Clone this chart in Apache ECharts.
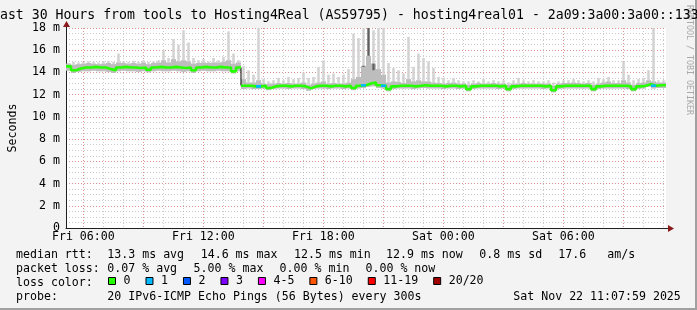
<!DOCTYPE html>
<html><head><meta charset="utf-8">
<script src="https://cdn.jsdelivr.net/npm/echarts@6/dist/echarts.min.js"></script>
<style>html,body{margin:0;padding:0;background:#f3f3f3}#c{width:697px;height:310px}</style>
</head><body><div id="c"></div>
<script>
// ---- data ----
const START_HOUR = 5 + 8 / 60;   // Fri 05:08 (hours since Fri 00:00)
const SPAN_HOURS = 30;
const BIN_HOURS = 0.25;          // 15-minute bins

const median = [
14.55,14.2,14.35,14.45,14.45,14.5,14.45,14.45,14.3,14.2,
14.45,14.5,14.45,14.45,14.4,14.45,14.25,14.45,14.5,14.45,
14.45,14.5,14.45,14.4,14.45,14.2,14.45,14.5,14.45,14.45,
14.5,14.45,14.45,14.1,14.45,12.8,12.8,12.75,12.75,12.8,
12.6,12.75,12.8,12.8,12.75,12.8,12.8,12.75,12.57,12.75,
12.8,12.8,12.75,12.8,12.8,12.75,12.8,12.6,12.8,12.85,
13.0,13.1,12.85,12.8,12.5,12.75,12.8,12.8,12.8,12.75,
12.8,12.85,12.8,12.8,12.8,12.75,12.8,12.8,12.75,12.8,
12.5,12.75,12.8,12.8,12.8,12.8,12.75,12.8,12.5,12.75,
12.8,12.8,12.8,12.8,12.8,12.75,12.8,12.4,12.75,12.8,
12.8,12.8,12.8,12.8,12.8,12.5,12.75,12.8,12.8,12.8,
12.8,12.8,12.75,12.5,12.75,12.8,12.95,12.8,12.85,12.85
];
const smokeLow = [
14.15,13.95,14.05,14.1,14.1,14.15,14.1,14.1,14.05,13.95,
14.1,14.15,14.1,14.1,14.05,14.1,14.0,14.1,14.15,14.1,
14.1,14.15,14.1,14.05,14.1,13.95,14.1,14.15,14.1,14.1,
14.15,14.1,14.1,13.9,14.1,12.5,12.55,12.5,12.5,12.55,
12.4,12.5,12.55,12.55,12.5,12.55,12.55,12.5,12.35,12.5,
12.55,12.55,12.5,12.55,12.55,12.5,12.55,12.4,12.55,12.6,
12.7,12.75,12.6,12.55,12.3,12.5,12.55,12.55,12.55,12.5,
12.55,12.6,12.55,12.55,12.55,12.5,12.55,12.55,12.5,12.55,
12.3,12.5,12.55,12.55,12.55,12.55,12.5,12.55,12.3,12.5,
12.55,12.55,12.55,12.55,12.55,12.5,12.55,12.2,12.5,12.55,
12.55,12.55,12.55,12.55,12.55,12.3,12.5,12.55,12.55,12.55,
12.55,12.55,12.5,12.3,12.5,12.55,12.7,12.55,12.6,12.6
];
const smokeMid = [
14.8,14.7,14.75,14.8,14.85,14.8,14.75,14.8,14.85,14.75,
14.9,14.85,14.8,14.85,14.8,14.9,14.75,14.85,14.9,15.1,
14.9,15.2,15.0,15.1,15.0,14.8,14.85,14.9,14.85,14.9,
14.9,14.95,15.1,14.8,14.9,13.4,13.1,13.1,13.3,13.0,
12.95,13.0,13.05,13.0,13.05,13.0,13.0,13.1,12.9,13.0,
13.1,13.2,13.0,13.05,13.0,13.0,13.1,13.4,13.6,14.6,
15.5,14.8,14.3,13.8,13.1,13.2,13.15,13.05,13.4,13.2,
13.3,13.2,13.2,13.1,13.05,13.0,13.05,13.1,13.0,13.0,
12.9,13.0,13.05,13.0,13.0,13.05,13.0,13.0,12.9,13.0,
13.0,13.05,13.0,13.0,13.0,13.0,13.0,12.8,13.0,13.05,
13.05,13.1,13.05,13.0,13.05,12.9,13.0,13.1,13.2,13.05,
13.05,13.3,13.1,12.9,13.05,13.1,13.3,13.2,13.1,13.1
];
const smokeMax = [
14.85,14.95,14.9,14.95,15.0,14.95,14.9,15.0,15.05,14.95,
15.7,15.0,14.95,15.05,14.95,15.1,14.95,15.0,15.1,16.0,
15.3,17.0,16.5,17.8,16.7,15.3,15.1,15.2,15.0,15.3,
15.1,15.4,17.7,15.7,15.1,14.6,14.2,13.8,18.0,13.4,
13.2,13.3,13.5,13.3,13.6,13.4,13.5,14.0,13.5,13.6,
14.5,15.1,13.8,13.9,13.6,13.8,14.3,17.5,17.1,18.0,
18.0,17.8,18.0,18.0,14.85,14.4,14.2,13.9,17.2,14.5,
15.7,15.3,15.0,14.4,13.6,13.5,13.3,13.5,13.3,13.2,
13.2,13.3,13.2,13.4,13.2,13.3,13.2,13.3,13.1,13.3,
13.5,13.3,13.2,13.3,13.2,13.2,13.3,13.1,13.2,13.3,
13.3,13.4,13.3,13.2,13.3,13.2,13.5,13.4,13.6,13.3,
13.3,15.0,13.8,13.3,13.4,13.5,14.2,18.0,13.3,13.3
];
const darkSpikes = [[59, 14.5], [60, 18.0], [61, 14.2]];   // [bin, top]
const loss1Bins = [38, 59, 63, 117];

const xLabelHours = [6, 12, 18, 24, 30];
const xLabelText = ['Fri 06:00', 'Fri 12:00', 'Fri 18:00', 'Sat 00:00', 'Sat 06:00'];
const lossLevels = ['0', '1', '2', '3', '4-5', '6-10', '11-19', '20/20'];
const lossColors = ['#26ff00', '#00b8ff', '#0059ff', '#7e00ff', '#ff00ff', '#ff5500', '#ff0000', '#a00000'];

const titleText = 'Last 30 Hours from tools to Hosting4Real (AS59795) - hosting4real01 - 2a09:3a00:3a00::133';
const rttHead = 'median rtt:';
const rttStats = ['13.3 ms avg', '14.6 ms max', '12.5 ms min', '12.9 ms now', '0.8 ms sd', '17.6', 'am/s'];
const lossHead = 'packet loss:';
const lossStats = ['0.07 % avg', '5.00 % max', '0.00 % min', '0.00 % now'];
const lossColorHead = 'loss color:';
const probeHead = 'probe:';
const probeText = '20 IPv6-ICMP Echo Pings (56 Bytes) every 300s';
const stampText = 'Sat Nov 22 11:07:59 2025';

// ---- layout ----
const MONO = '"DejaVu Sans Mono", monospace';
const FS = 11.6;
const rttX = [107.3, 200.7, 294, 386, 479.3, 558.3, 607.3];
const lossX = [107.3, 193.6, 279.6, 365.5];

const END_HOUR = START_HOUR + SPAN_HOURS;
const tAt = i => START_HOUR + i * BIN_HOURS;
const hourTicks = [];
for (let h = Math.ceil(START_HOUR); h <= END_HOUR; h++) hourTicks.push(h);
const minorHours = hourTicks.filter(h => h % 3 !== 0);
const majorHours = hourTicks.filter(h => h % 3 === 0);

const darkMap = {};
darkSpikes.forEach(d => { darkMap[d[0]] = d[1]; });
const smokeData = median.map((m, i) => [tAt(i), tAt(i + 1), smokeLow[i], smokeMid[i], smokeMax[i], darkMap[i] || 0]);

const blackLine = median.map((v, i) => [tAt(i), v]);
blackLine.push([END_HOUR, median[median.length - 1]]);

const greenLine = [];
median.forEach((v, i) => {
  greenLine.push([tAt(i), v], [tAt(i + 1), v]);
  if (i + 1 < median.length && Math.abs(median[i + 1] - v) > 0.5) greenLine.push(null);
});
const blueLine = [];
loss1Bins.forEach(b => { blueLine.push([tAt(b), median[b]], [tAt(b + 1), median[b]], null); });

function renderSmoke(params, api) {
  const t0 = api.value(0), t1 = api.value(1);
  const lo = api.value(2), mi = api.value(3), hi = api.value(4), dk = api.value(5);
  const rect = (a, b, fill, frac) => {
    const p0 = api.coord([t0, b]);
    const p1 = api.coord([t1, a]);
    const w = p1[0] - p0[0];
    const ww = Math.max(1.5, w * frac);
    return { type: 'rect', shape: { x: p0[0] + (w - ww) / 2, y: p0[1], width: ww, height: p1[1] - p0[1] }, style: { fill } };
  };
  const children = [rect(mi, hi, '#d2d2d2', 0.5), rect(lo, mi, '#bdbdbd', 1)];
  if (dk > 0) children.push(rect(mi, dk, '#5e5e5e', 0.45));
  return { type: 'group', children };
}

const series = [
  { type: 'custom', name: 'smoke', renderItem: renderSmoke, data: smokeData, clip: true,
    encode: { x: [0, 1], y: [2, 3, 4] }, silent: true, z: 1 },
  { type: 'line', name: 'medianBase', data: blackLine, step: 'end', showSymbol: false, symbol: 'none',
    lineStyle: { color: '#000', width: 1 }, z: 2, silent: true },
  { type: 'line', name: lossLevels[0], data: greenLine, showSymbol: false, symbol: 'none', connectNulls: false,
    itemStyle: { color: lossColors[0] }, lineStyle: { color: lossColors[0], width: 2.6 }, z: 3, silent: true },
  { type: 'line', name: lossLevels[1], data: blueLine, showSymbol: false, symbol: 'none', connectNulls: false,
    itemStyle: { color: lossColors[1] }, lineStyle: { color: lossColors[1], width: 2.6 }, z: 4, silent: true }
];
for (let k = 2; k < lossLevels.length; k++) {
  series.push({ type: 'line', name: lossLevels[k], data: [], showSymbol: false,
    itemStyle: { color: lossColors[k] }, lineStyle: { color: lossColors[k] } });
}

const graphics = [];
const txt = (x, y, text) => graphics.push({ type: 'text', x, y, silent: true,
  style: { text, font: FS + 'px ' + MONO, fill: '#000', verticalAlign: 'middle', align: 'left' } });
txt(16, 254.5, rttHead);
rttStats.forEach((s, i) => txt(rttX[i], 254.5, s));
txt(16, 268.5, lossHead);
lossStats.forEach((s, i) => txt(lossX[i], 268.5, s));
txt(16, 282.5, lossColorHead);
txt(16, 296.5, probeHead);
txt(107.3, 296.5, probeText);
txt(513.3, 296.5, stampText);
// vertical credit
graphics.push({ type: 'text', x: 693, y: 5, rotation: -Math.PI / 2, silent: true,
  style: { text: 'RRDTOOL / TOBI OETIKER', font: '8.3px ' + MONO, fill: '#a8a8a8', verticalAlign: 'top', align: 'left' } });
// axis arrows
graphics.push({ type: 'line', silent: true, shape: { x1: 66.5, y1: 28, x2: 66.5, y2: 24 }, style: { stroke: '#1f1f1f', lineWidth: 1 } });
graphics.push({ type: 'polygon', silent: true, shape: { points: [[63, 27], [70, 27], [66.5, 21]] }, style: { fill: '#8b1a1a' } });
graphics.push({ type: 'line', silent: true, shape: { x1: 666, y1: 228.5, x2: 670, y2: 228.5 }, style: { stroke: '#1f1f1f', lineWidth: 1 } });
graphics.push({ type: 'polygon', silent: true, shape: { points: [[668, 225], [668, 232], [674, 228.5]] }, style: { fill: '#8b1a1a' } });
// frame shading
graphics.push({ type: 'rect', silent: true, shape: { x: 0, y: 308, width: 697, height: 2 }, style: { fill: '#a0a0a0' } });
graphics.push({ type: 'rect', silent: true, shape: { x: 695, y: 0, width: 2, height: 310 }, style: { fill: '#a0a0a0' } });

const option = {
  animation: false,
  backgroundColor: '#f3f3f3',
  title: { text: titleText, left: -8, top: 9, padding: 0,
    textStyle: { fontFamily: MONO, fontSize: 13.2, fontWeight: 'normal', color: '#000' } },
  grid: { left: 66, top: 28, width: 600, height: 200, show: true, backgroundColor: '#ffffff', borderWidth: 0,
    containLabel: false, outerBoundsMode: 'none' },
  legend: { data: lossLevels, left: 108, top: 275, icon: 'rect', itemWidth: 7, itemHeight: 7, itemGap: 15,
    padding: 0, selectedMode: false,
    itemStyle: { borderColor: '#000', borderWidth: 1 },
    textStyle: { fontFamily: MONO, fontSize: FS, color: '#000', padding: [0, 0, 0, 3] } },
  xAxis: [
    { type: 'value', min: START_HOUR, max: END_HOUR, position: 'bottom',
      axisLine: { show: true, onZero: true, lineStyle: { color: '#1f1f1f', width: 1 } },
      axisTick: { show: false, customValues: minorHours },
      splitLine: { show: true, lineStyle: { color: 'rgba(140,140,140,0.45)', type: [1, 2], width: 1 } },
      axisLabel: { customValues: xLabelHours, formatter: v => xLabelText[xLabelHours.indexOf(Math.round(v))] || '',
        fontFamily: MONO, fontSize: FS, color: '#000', margin: 3 } },
    { type: 'value', min: START_HOUR, max: END_HOUR, position: 'top',
      axisLine: { show: false }, axisLabel: { show: false },
      axisTick: { show: false, customValues: majorHours },
      splitLine: { show: true, lineStyle: { color: 'rgba(205,70,70,0.6)', type: [1, 2], width: 1 } } }
  ],
  yAxis: { type: 'value', min: 0, max: 18, interval: 2,
    axisLine: { show: true, lineStyle: { color: '#1f1f1f', width: 1 } },
    axisTick: { show: false },
    axisLabel: { formatter: v => (v === 0 ? '0' : v + ' m'), fontFamily: MONO, fontSize: FS, color: '#000', margin: 6 },
    splitLine: { show: true, lineStyle: { color: 'rgba(205,70,70,0.6)', type: [1, 2], width: 1 } },
    minorTick: { show: false, splitNumber: 4 },
    minorSplitLine: { show: true, lineStyle: { color: 'rgba(140,140,140,0.45)', type: [1, 2], width: 1 } },
    name: 'Seconds', nameLocation: 'middle', nameGap: 47,
    nameTextStyle: { fontFamily: MONO, fontSize: FS, color: '#000' } },
  series,
  graphic: graphics
};
const chart = echarts.init(document.getElementById('c'), null, { renderer: 'canvas' });
chart.setOption(option);
</script></body></html>
